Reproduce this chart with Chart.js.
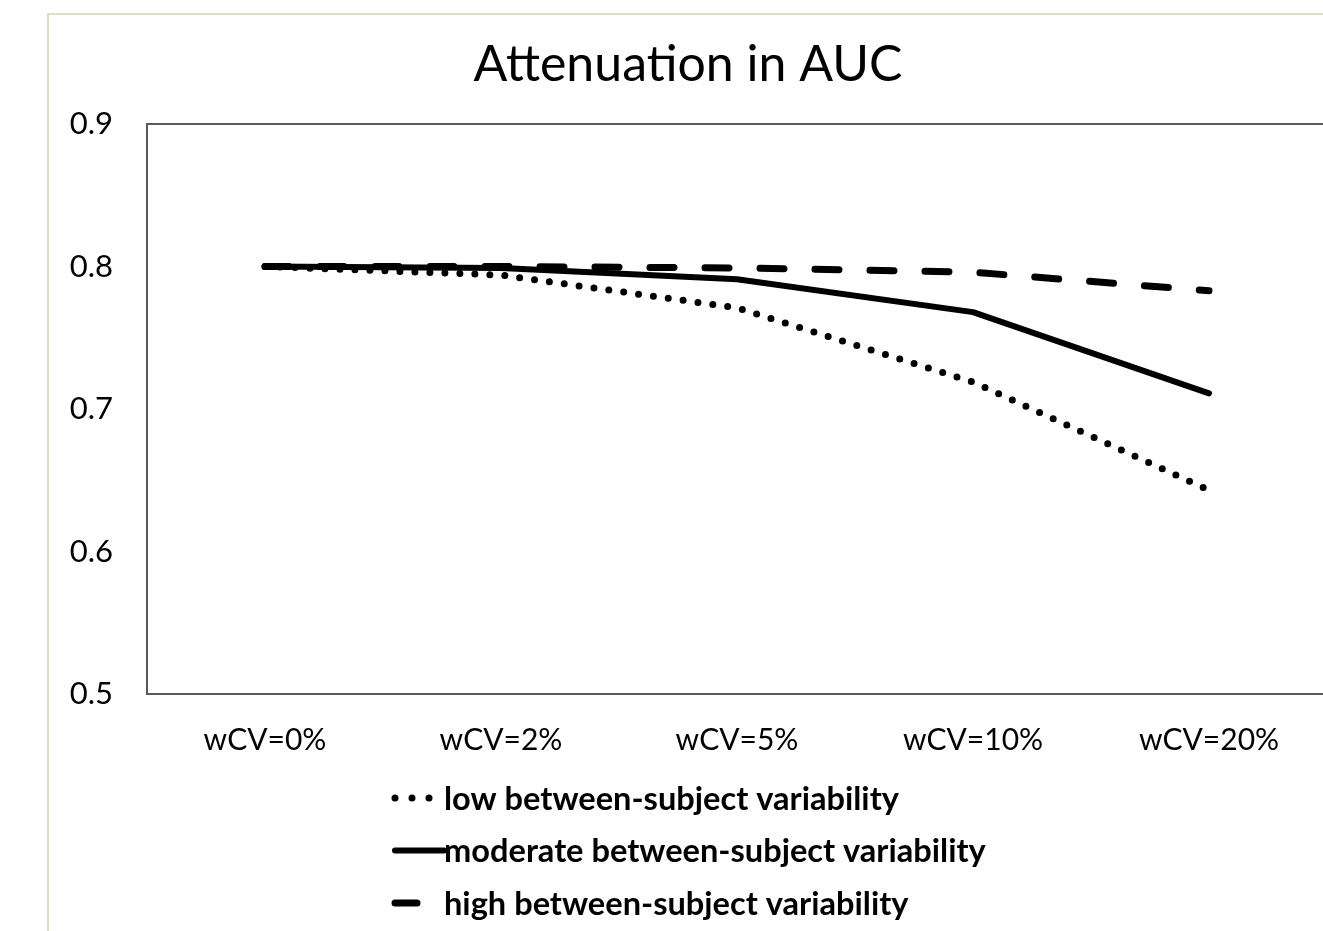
<!DOCTYPE html>
<html>
<head>
<meta charset="utf-8">
<script src="https://cdn.jsdelivr.net/npm/chart.js@4.4.1/dist/chart.umd.min.js"></script>
<style>
    html, body { margin: 0; padding: 0; background: #fff; overflow: hidden; }
    #frame {
        position: absolute;
        left: 47px;
        top: 13px;
        width: 1330px;
        height: 940px;
        border: 2px solid #d3e3c3;
        background: #fff;
    }
    #myChart { display: block; }
</style>
</head>
<body>
<div id="frame">
    <canvas id="myChart" width="1330" height="930" style="width:1330px;height:930px"></canvas>
</div>
<script>
// categories on the x axis
const categories = ['wCV=0%', 'wCV=2%', 'wCV=5%', 'wCV=10%', 'wCV=20%'];

// AUC values
const lowVariability = [0.800, 0.794, 0.771, 0.719, 0.643];
const moderateVariability = [0.800, 0.799, 0.791, 0.768, 0.711];
const highVariability = [0.800, 0.800, 0.799, 0.796, 0.783];

const seriesNames = [
    'low between-subject variability',
    'moderate between-subject variability',
    'high between-subject variability'
];

const yTicks = [0.5, 0.6, 0.7, 0.8, 0.9];

const FONT = 'Lato, "Open Sans", sans-serif';
const INK = '#000000';

const lineStyles = [
    { width: 7, dash: [0, 15], legendDash: [0, 17], legendLen: 35 },
    { width: 6, dash: [], legendDash: [], legendLen: 49 },
    { width: 7, dash: [24, 31], legendDash: [], legendLen: 22 }
];

// box round the plot area
const plotFrame = {
    id: 'plotFrame',
    beforeDatasetsDraw(chart) {
        const a = chart.chartArea;
        const c = chart.ctx;
        c.save();
        c.strokeStyle = '#595959';
        c.lineWidth = 2;
        c.strokeRect(a.left, a.top, a.right - a.left, a.bottom - a.top);
        c.restore();
    }
};

// legend stacked under the axis, one row for each series
const stackedLegend = {
    id: 'stackedLegend',
    afterDraw(chart) {
        const a = chart.chartArea;
        const c = chart.ctx;
        const sampleX = a.left + 245;
        const textX = a.left + 297;
        c.save();
        c.font = 'bold 32.6px ' + FONT;
        c.textBaseline = 'middle';
        c.fillStyle = INK;
        seriesNames.forEach((name, i) => {
            const y = a.bottom + 104 + i * 52.5;
            const st = lineStyles[i];
            c.beginPath();
            c.strokeStyle = INK;
            c.lineWidth = st.width;
            c.lineCap = 'round';
            c.setLineDash(st.legendDash);
            c.moveTo(sampleX + 3, y);
            c.lineTo(sampleX + 3 + st.legendLen, y);
            c.stroke();
            c.setLineDash([]);
            c.fillText(name, textX, y + 1);
        });
        c.restore();
    }
};

function makeDataset(label, values, st) {
    return {
        label: label,
        data: values,
        borderColor: INK,
        backgroundColor: INK,
        borderWidth: st.width,
        borderDash: st.dash,
        borderCapStyle: 'round',
        borderJoinStyle: 'round',
        pointRadius: 0,
        tension: 0,
        fill: false
    };
}

const config = {
    type: 'line',
    data: {
        labels: categories,
        datasets: [
            makeDataset(seriesNames[0], lowVariability, lineStyles[0]),
            makeDataset(seriesNames[1], moderateVariability, lineStyles[1]),
            makeDataset(seriesNames[2], highVariability, lineStyles[2])
        ]
    },
    options: {
        responsive: false,
        animation: false,
        layout: {
            padding: { left: 0, right: 52, top: 0, bottom: 171 }
        },
        plugins: {
            legend: { display: false },
            tooltip: { enabled: false },
            title: {
                display: true,
                text: 'Attenuation in AUC',
                color: INK,
                font: { family: FONT, size: 50, weight: 'normal' },
                padding: { top: 20, bottom: 29 }
            }
        },
        scales: {
            x: {
                type: 'category',
                offset: true,
                grid: { display: false, drawTicks: false },
                border: { display: false },
                ticks: {
                    color: INK,
                    padding: 28,
                    maxRotation: 0,
                    font: { family: FONT, size: 30 }
                },
                afterFit(scale) { scale.height = 80; }
            },
            y: {
                min: yTicks[0],
                max: yTicks[yTicks.length - 1],
                afterBuildTicks(scale) {
                    scale.ticks = yTicks.map(v => ({ value: v }));
                },
                grid: { display: false, drawTicks: false },
                border: { display: false },
                ticks: {
                    color: INK,
                    padding: 34,
                    font: { family: FONT, size: 31 },
                    callback: v => v.toFixed(1)
                },
                afterFit(scale) { scale.width = 98; }
            }
        }
    },
    plugins: [plotFrame, stackedLegend]
};

const myChart = new Chart(document.getElementById('myChart'), config);
</script>
</body>
</html>
